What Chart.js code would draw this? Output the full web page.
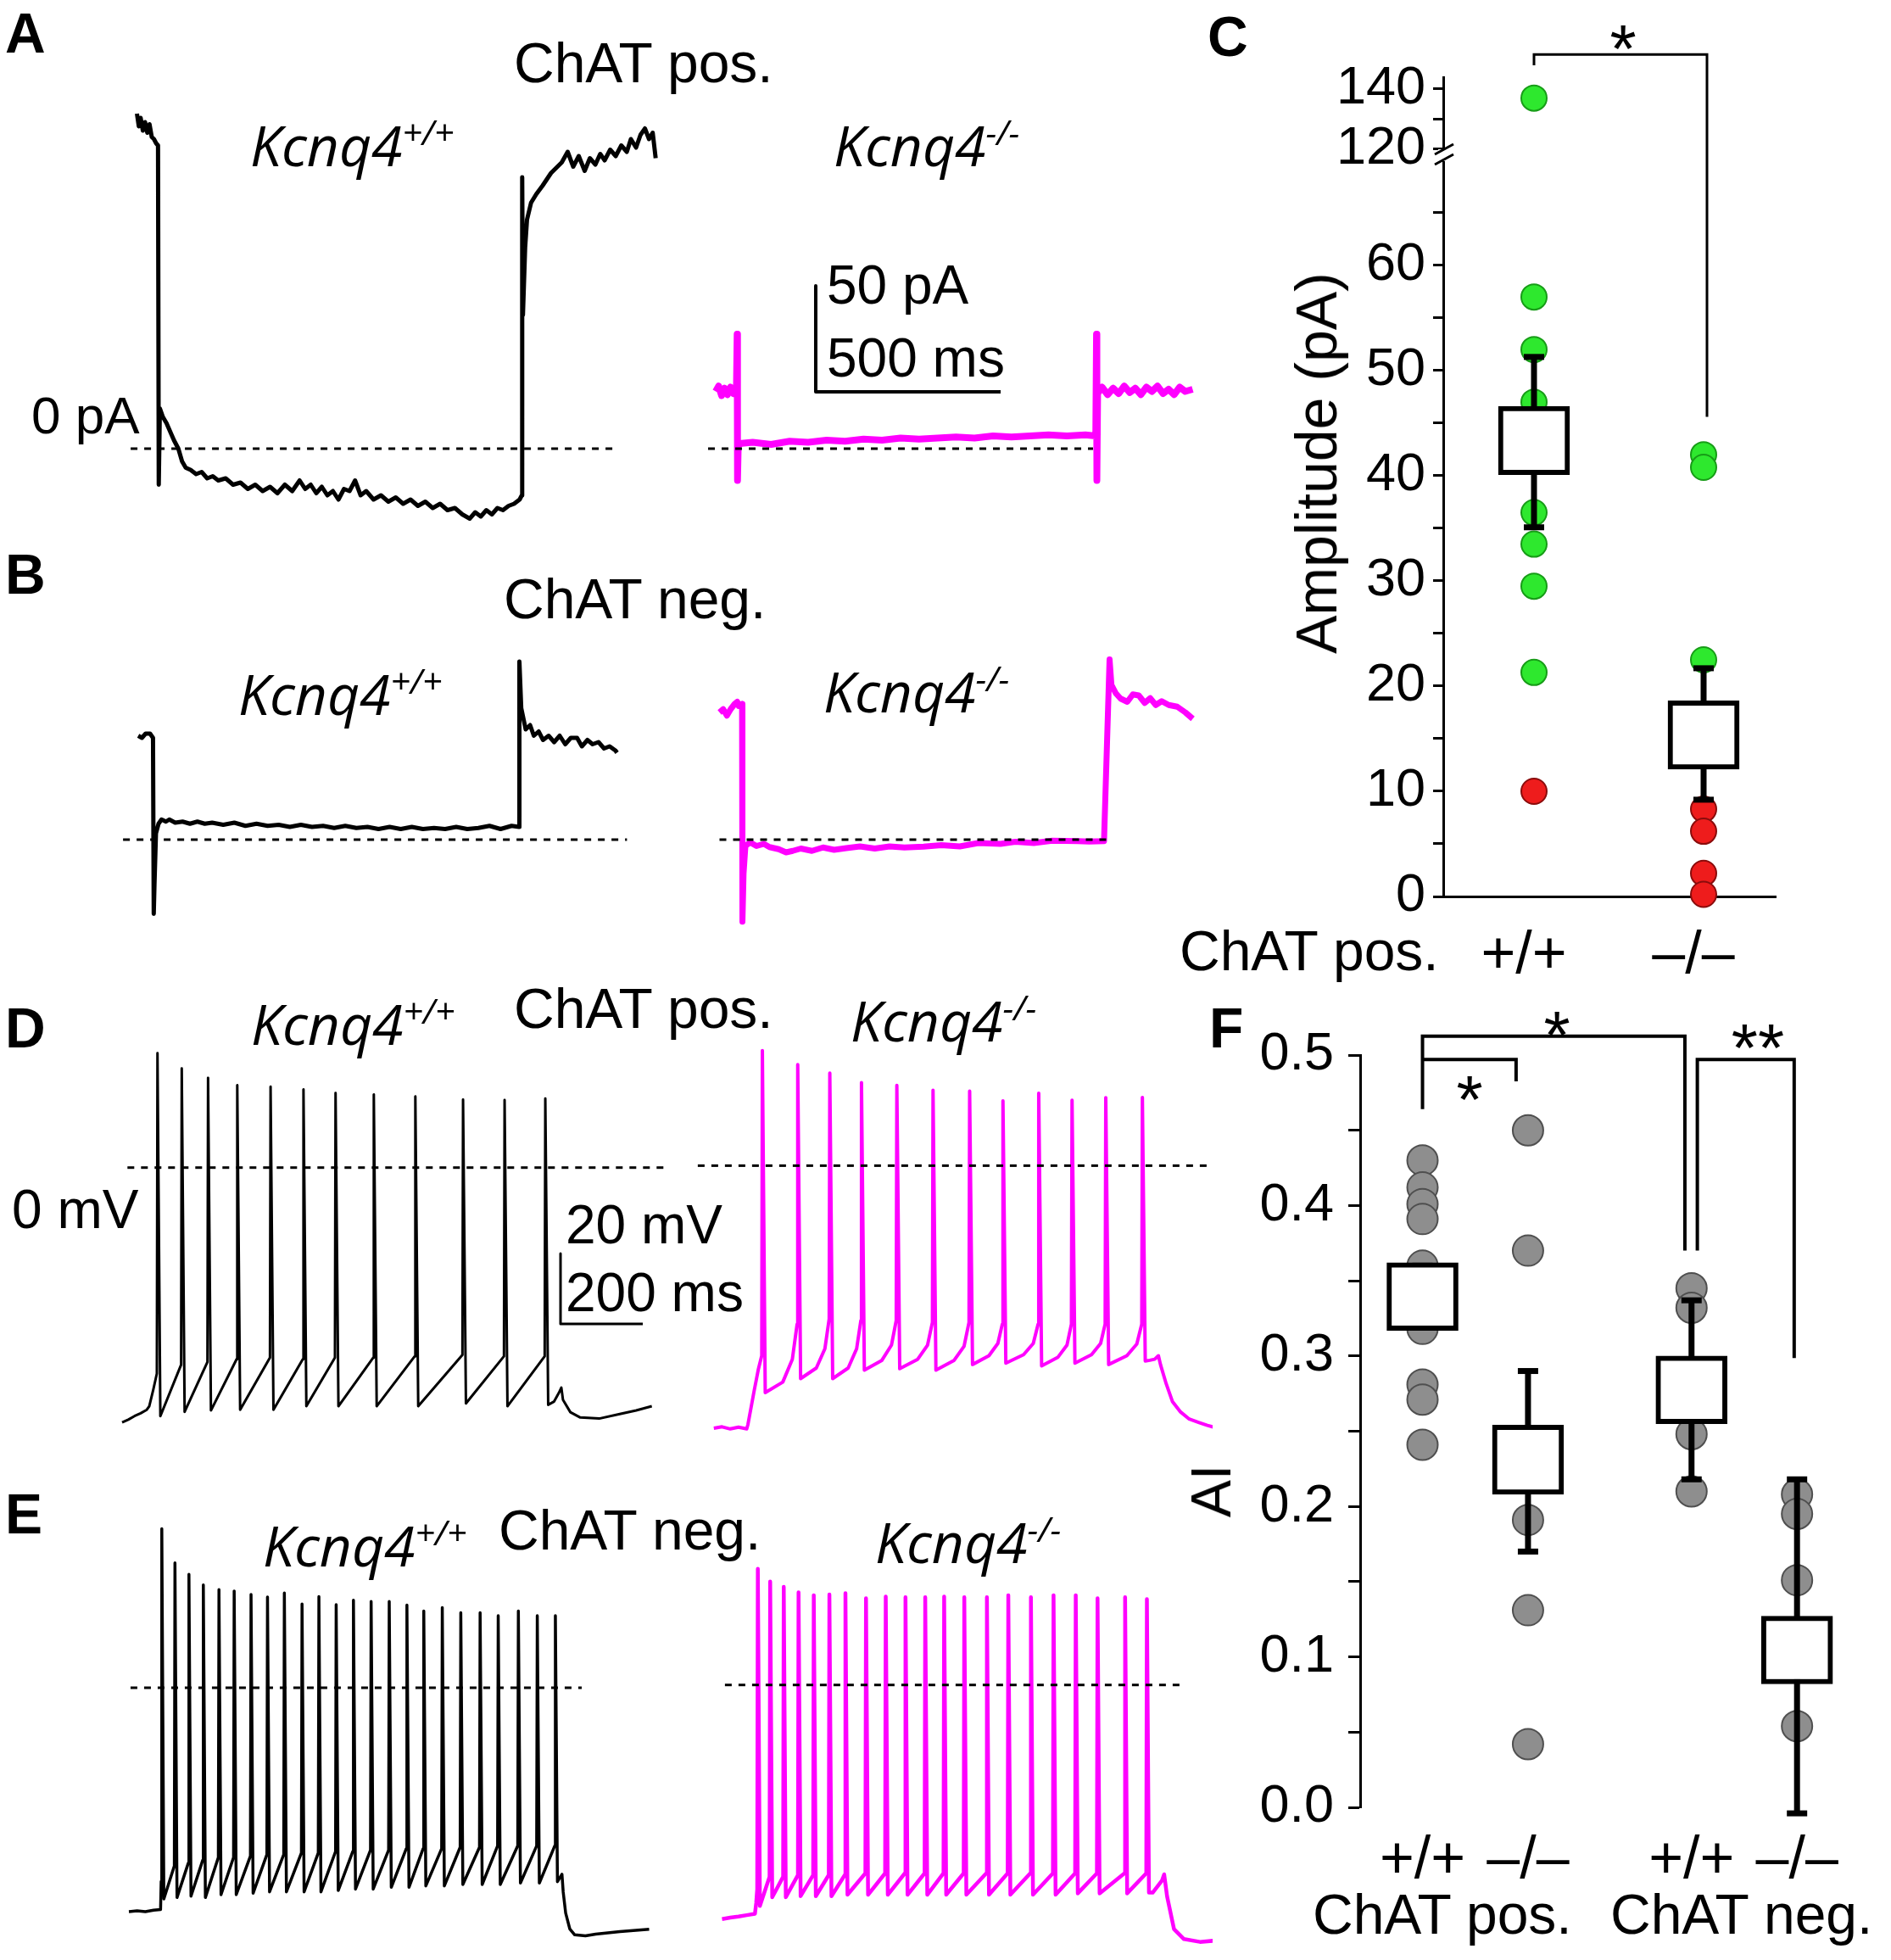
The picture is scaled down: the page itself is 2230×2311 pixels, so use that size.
<!DOCTYPE html>
<html>
<head>
<meta charset="utf-8">
<script src="https://cdn.jsdelivr.net/npm/chart.js@4.4.1/dist/chart.umd.min.js"></script>
<style>
  html, body { margin: 0; padding: 0; background: #fff; }
  #fig { position: relative; width: 2230px; height: 2311px; overflow: hidden; background: #fff; }
  #fig canvas { position: absolute; }
  .t { position: absolute; white-space: nowrap; line-height: 1; color: #000;
       font-family: "Liberation Sans", Arial, Helvetica, sans-serif; }
  .it { font-family: "Open Sans", "DejaVu Sans", sans-serif; font-style: italic; }
  .it sup { font-size: 0.62em; position: relative; top: -0.62em; vertical-align: baseline; line-height: 0; }
</style>
</head>
<body>
<div id="fig"></div>
<script>
// ---------------- data ----------------
// A: ChAT pos., current traces [ms, pA]
const aWtTrace = [[0,158],[5,152],[10,156],[16,150],[22,154],[28,149],[34,153],[40,147],[46,146],[52,144],[57,143],[59,-17],[62,19],[70,15],[80,12],[90,8],[100,4],[112,0],[122,-6],[132,-9],[145,-10],[160,-12],[175,-11],[190,-14],[205,-13],[220,-15],[240,-14],[260,-17],[280,-16],[300,-19],[320,-17],[340,-20],[360,-18],[380,-21],[400,-17],[420,-20],[440,-15],[455,-19],[470,-17],[485,-21],[500,-18],[515,-22],[530,-20],[545,-24],[560,-19],[575,-20],[590,-15],[605,-22],[620,-20],[640,-24],[660,-22],[680,-25],[700,-23],[720,-26],[740,-24],[760,-27],[780,-25],[800,-28],[820,-26],[840,-29],[860,-28],[880,-31],[900,-33],[915,-30],[930,-32],[945,-29],[960,-31],[975,-28],[990,-29],[1005,-27],[1020,-26],[1035,-24],[1041,-22],[1042,128],[1044,63],[1050,95],[1055,108],[1066,116],[1080,120],[1097,124],[1120,130],[1149,135],[1165,140],[1180,133],[1195,138],[1211,131],[1225,137],[1240,134],[1253,139],[1265,136],[1280,141],[1295,138],[1310,143],[1325,140],[1336,146],[1350,142],[1362,148],[1374,151],[1385,146],[1395,149],[1403,137]];
const aKoTrace = [[0,27],[8,29.5],[16,25],[24,28.5],[32,25.5],[40,29],[48,26],[56,27.5],[58,54],[59,-15],[61,1.5],[70,2.5],[100,3],[150,2],[200,3.5],[250,3],[300,4],[350,3.5],[400,4.5],[450,4],[500,5],[550,4.5],[600,5],[650,5.5],[700,5],[750,6],[800,5.5],[850,6],[900,6.5],[950,6],[1000,6.5],[1028,6],[1030,54],[1031,-15],[1033,26],[1045,29],[1060,25.5],[1075,28.5],[1090,26],[1105,29.5],[1120,26.5],[1135,28.5],[1150,25.5],[1165,29],[1180,27],[1195,29.5],[1210,26],[1225,28],[1240,25.5],[1255,29],[1270,27],[1290,28]];
// B: ChAT neg., current traces [ms, pA]
const bWtTrace = [[0,49],[10,48],[20,50],[32,50],[40,48],[42,-35],[44,-21],[48,3],[55,7.5],[63,9.5],[75,8.5],[84,9.5],[100,8],[120,8.5],[140,7.5],[160,8.5],[180,7.5],[200,8],[230,7],[260,8],[290,6.5],[320,7.5],[350,6.5],[380,7],[410,6],[440,7],[470,6],[500,6.5],[530,5.5],[560,6.5],[590,5.5],[620,6],[650,5],[680,6],[710,5],[740,6],[770,5],[800,5.5],[830,5],[860,6],[890,5],[920,5.5],[950,6.5],[980,5],[1010,6.5],[1030,6],[1031,84],[1036,62],[1048,52],[1060,54],[1070,49],[1083,51],[1095,47],[1110,49],[1125,46],[1140,49],[1155,45],[1170,48],[1187,48],[1200,44],[1215,47],[1229,45],[1245,46],[1260,43],[1275,44],[1291,42],[1295,41]];
const bKoTrace = [[0,60],[10,61.5],[20,58.5],[30,61.5],[41,64],[48,65],[52,63],[61,64],[62,-38.7],[65,-16],[70,-3],[83,-1.3],[100,-3],[120,-2],[135,-3.5],[160,-4.5],[180,-6],[198,-5.3],[220,-4.2],[250,-5.3],[280,-3.7],[310,-4.8],[343,-4],[380,-3.2],[420,-4.2],[460,-3.2],[500,-3.7],[552,-3.3],[600,-2.6],[650,-3.2],[700,-1.6],[760,-2],[800,-1],[850,-1.6],[900,-0.5],[968,-0.7],[1000,-0.9],[1040,-0.7],[1055,85],[1060,73],[1072,69],[1085,66.5],[1103,65],[1118,68.5],[1134,68],[1150,64.5],[1165,66.7],[1180,63.5],[1196,65.3],[1215,63.5],[1238,62.7],[1260,60],[1280,57]];

// D: ChAT pos., firing [ms, mV]
const dWtPre = [[0,-72.4],[15,-71.6],[30,-70.6],[45,-69.8],[60,-68.8],[66,-67.8],[76,-63]];
const dWtSpikeT = [86, 145, 209, 280, 361, 441, 519, 612, 713, 829, 930, 1029];
const dWtPeak = [32.5, 28.2, 25.5, 23.4, 23, 22.2, 21.2, 20.8, 20.2, 19.3, 19.2, 19.6];
const dWtThr = [-58.5, -56, -55.2, -54.4, -54, -54.4, -54, -54, -53.6, -53.2, -53.6, -53.6];
const dWtTrough = [-70.6, -69.4, -69, -68.8, -68.8, -67.8, -67.8, -67.8, -67.8, -67, -67.8, -67.4];
const dWtPost = [[1050,-66.5],[1062,-64],[1068,-62.5],[1072,-66],[1090,-69.5],[1114,-71],[1160,-71.3],[1210,-70],[1250,-69],[1288,-67.8]];

const dKoPre = [[0,-74.6],[20,-74.2],[40,-74.8],[60,-74.3],[80,-74.8],[83,-73.5],[98,-64],[108,-58]];
const dKoSpikeT = [118, 204, 282, 359, 445, 533, 622, 703, 790, 871, 953, 1042];
const dKoPeak = [32.7, 28.7, 26.3, 23.6, 22.8, 21.4, 21.2, 18.4, 20.6, 18.6, 19.3, 19.4];
const dKoThr = [-54, -45, -43.5, -44, -44, -44.5, -44.5, -45, -45, -45, -45, -45];
const dKoTrough = [-64.5, -60.5, -60.5, -58.1, -57.7, -58.1, -56.5, -56.1, -56.9, -56.1, -56.5, -55.5];
const dKoMid = [-61.5, -57.5, -57.5, -55.3, -55, -55.3, -54, -53.7, -54.4, -53.7, -54];
const dKoLate = [-55, -52, -52, -51, -51, -51.3, -50.5, -50.5, -51, -50.5, -50.7];
const dKoPost = [[1060,-55.3],[1072,-55],[1081,-54],[1086,-56.5],[1100,-62],[1115,-67],[1135,-70],[1156,-72],[1180,-73],[1200,-73.8],[1221,-74.5]];

// E: ChAT neg., firing [ms, mV]
const eWtPre = [[0,-63.6],[20,-63.4],[40,-63.6],[60,-63.2],[77,-63]];
const eWtSpikeT = [80, 112, 146, 181, 219, 256, 297, 337, 378, 421, 462, 504, 546, 589, 633, 676, 717, 762, 807, 854, 898, 947, 993, 1037];
const eWtPeak = [45.2, 35.5, 32.2, 29.2, 27.9, 27.5, 26.5, 25.8, 26.9, 23.8, 25.9, 23.6, 24.9, 24.5, 24.5, 23.5, 21.8, 22.8, 21.3, 21.3, 20.5, 21.8, 20.5, 20.5];
const eWtThr = [-55, -50.6, -49.8, -49, -48.2, -48.2, -47.8, -47.4, -47.4, -46.9, -46.9, -46.5, -46.5, -46.1, -46.1, -45.7, -45.7, -45.7, -45.3, -45.3, -44.9, -44.9, -44.9, -44.9];
const eWtTrough = [-60, -59.6, -59.2, -59.6, -58.8, -58.8, -58.4, -58, -58, -58, -58, -57.6, -57.2, -57.2, -56.7, -56.7, -56.3, -56.3, -55.9, -55.9, -55.9, -55.5, -55.5, -55.1];
const eWtPost = [[1053,-53],[1056,-58],[1062,-64],[1072,-68.5],[1084,-70.2],[1110,-70.5],[1135,-70],[1194,-69.3],[1265,-68.6]];

const eKoPre = [[0,-66.5],[20,-66.1],[40,-65.8],[60,-65.4],[80,-65],[83,-62]];
const eKoSpikeT = [87, 117, 150, 186, 223, 261, 300, 350, 398, 446, 494, 540, 589, 644, 696, 751, 806, 860, 913, 980, 1033];
const eKoPeak = [33, 29.4, 27.9, 26.3, 25.5, 25.7, 26.1, 24.6, 25.1, 24.9, 24.9, 25.1, 24.9, 24.9, 25.5, 24.9, 25.5, 25.5, 24.6, 24.9, 24.4];
const eKoThr = [-58, -54.5, -54.5, -54, -54, -54, -54, -53.5, -53.5, -53.5, -53.5, -53.5, -53.5, -53.5, -53.5, -53.5, -53.5, -53.5, -53.5, -53.5, -53.5];
const eKoTrough = [-62.8, -60.3, -60.3, -60, -60, -60, -59.6, -59.6, -59.6, -59.6, -59.6, -59.6, -59.6, -59.6, -59.6, -59.6, -59.6, -59.2, -59.2, -59.2, -59];
const eKoPost = [[1047,-59],[1070,-55.5],[1075,-53.8],[1082,-60],[1099,-69.4],[1123,-72.2],[1162,-73],[1202,-72.6]];

// C: amplitude (pA)
const cGroups = ['+/+', '\u2013/\u2013'];
const cGreen = [[137, 57, 52, 47, 36.5, 33.5, 29.5, 21.3], [42, 40.8, 22.5]];
const cRed = [[10], [8.3, 6.2, 2.2, 0.2]];
const cBoxLow = [40.1, 12.1];
const cBoxHigh = [46.6, 18.6];
const cWhiskLow = [35.1, 9.2];
const cWhiskHigh = [51.3, 21.7];
const cLoTicks = [0, 5, 10, 15, 20, 25, 30, 35, 40, 45, 50, 55, 60, 65];
const cLoLabels = ['0', '', '10', '', '20', '', '30', '', '40', '', '50', '', '60', ''];
const cHiTicks = [120, 130, 140];
const cHiLabels = ['120', '', '140'];

// F: adaptation index
const fGroups = ['+/+', '\u2013/\u2013', '+/+', '\u2013/\u2013'];
const fPoints = [[0.43, 0.412, 0.401, 0.391, 0.36, 0.318, 0.281, 0.271, 0.241], [0.45, 0.37, 0.191, 0.131, 0.042], [0.345, 0.332, 0.248, 0.21], [0.208, 0.195, 0.151, 0.054]];
const fBoxLow = [0.317, 0.208, 0.255, 0.082];
const fBoxHigh = [0.362, 0.254, 0.300, 0.127];
const fWhiskLow = [0.32, 0.17, 0.218, -0.004];
const fWhiskHigh = [0.36, 0.29, 0.337, 0.218];
const fTicks = [0, 0.05, 0.1, 0.15, 0.2, 0.25, 0.3, 0.35, 0.4, 0.45, 0.5];
const fTickLabels = ['0.0', '', '0.1', '', '0.2', '', '0.3', '', '0.4', '', '0.5'];

// ---------------- layout ----------------
const SANS = '"Liberation Sans", Arial, Helvetica, sans-serif';
Chart.defaults.font.family = SANS;
Chart.defaults.color = '#000';
Chart.defaults.animation = false;
Chart.defaults.plugins.legend.display = false;
Chart.defaults.plugins.tooltip.enabled = false;

const MAGENTA = '#ff00ff';
const fig = document.getElementById('fig');

function addCanvas(box) {
  const c = document.createElement('canvas');
  c.width = box.w; c.height = box.h;
  Object.assign(c.style, { left: box.left + 'px', top: box.top + 'px', width: box.w + 'px', height: box.h + 'px' });
  fig.appendChild(c);
  return c;
}

function addText(html, left, baseline, size, opt = {}) {
  const d = document.createElement('div');
  d.className = 't' + (opt.italic ? ' it' : '');
  d.innerHTML = html;
  d.style.fontSize = size + 'px';
  if (opt.bold) d.style.fontWeight = 'bold';
  const asc = opt.italic ? 0.888 : 0.8465;
  d.style.left = left + 'px';
  d.style.top = (baseline - asc * size) + 'px';
  fig.appendChild(d);
  return d;
}
function addRotated(text, cx, cy, size) {
  const d = document.createElement('div');
  d.className = 't';
  d.textContent = text;
  d.style.fontSize = size + 'px';
  d.style.left = cx + 'px';
  d.style.top = cy + 'px';
  d.style.transform = 'translate(-50%, -50%) rotate(-90deg)';
  fig.appendChild(d);
}
function addStar(text, cx, cy, size) {
  const d = addText(text, cx, 0, size);
  d.style.top = (cy - 0.28 * size) + 'px';
  d.style.transform = 'translateX(-50%)';
}

const toPts = arr => arr.map(p => ({ x: p[0], y: p[1] }));

function spikeTrain(pre, sp, post, troughDt) {
  const pts = toPts(pre);
  sp.t.forEach((t, i) => {
    pts.push({ x: t - 1.5, y: sp.thr[i] }, { x: t, y: sp.peak[i] }, { x: t + troughDt, y: sp.trough[i] });
    const next = sp.t[i + 1];
    if (next !== undefined && sp.mid) {
      const a = t + troughDt, b = next - 1.5;
      pts.push({ x: a + 0.55 * (b - a), y: sp.mid[i] }, { x: a + 0.85 * (b - a), y: sp.late[i] });
    }
  });
  return pts.concat(toPts(post));
}

function rangeScale(box, org, axis) {
  if (axis === 'x') {
    return { type: 'linear', display: false, min: (box.left - org.x0) / org.sx, max: (box.left + box.w - org.x0) / org.sx };
  }
  return { type: 'linear', display: false, max: (org.y0 - box.top) / org.sy, min: (org.y0 - box.top - box.h) / org.sy };
}

function lineDs(points, color, width, xs, ys, dash, order) {
  return {
    type: 'line', data: points, borderColor: color, borderWidth: width, pointRadius: 0,
    tension: 0, fill: false, borderDash: dash || [], borderJoinStyle: 'round', borderCapStyle: 'butt',
    xAxisID: xs, yAxisID: ys, clip: false, order: order
  };
}

function traceChart(box, layers) {
  const cv = addCanvas(box);
  const scales = {};
  const datasets = [];
  layers.forEach((L, k) => {
    const xs = 'x' + k, ys = 'y' + k;
    scales[xs] = rangeScale(box, L.org, 'x');
    scales[ys] = rangeScale(box, L.org, 'y');
    datasets.push(lineDs(L.points, L.color, L.width, xs, ys, null, 2));
    datasets.push(lineDs([{ x: L.zero[0], y: 0 }, { x: L.zero[1], y: 0 }], '#000', 3, xs, ys, [8, 8], 0));
    if (L.bar) {
      const b = L.bar;
      datasets.push(lineDs([{ x: b.t, y: b.top }, { x: b.t, y: b.top - b.dy }, { x: b.t + b.dt, y: b.top - b.dy }], '#000', b.width, xs, ys, null, 1));
    }
  });
  new Chart(cv, {
    type: 'line',
    data: { datasets },
    options: { responsive: false, devicePixelRatio: 1, layout: { padding: 0 }, scales }
  });
}

// A
const orgA = { sx: 0.436, sy: 2.5 };
traceChart({ left: 0, top: 90, w: 1430, h: 540 }, [
  { points: toPts(aWtTrace), color: '#000', width: 5, org: { ...orgA, x0: 161.5, y0: 529 }, zero: [-17, 1295] },
  { points: toPts(aKoTrace), color: MAGENTA, width: 8, org: { ...orgA, x0: 844, y0: 529 }, zero: [-20.6, 1020.6],
    bar: { t: 270.6, top: 76.8, dy: 50, dt: 500, width: 4 } }
]);
// B
traceChart({ left: 0, top: 740, w: 1430, h: 380 }, [
  { points: toPts(bWtTrace), color: '#000', width: 5, org: { ...orgA, x0: 163, y0: 990 }, zero: [-41, 1322] },
  { points: toPts(bKoTrace), color: MAGENTA, width: 7, org: { ...orgA, x0: 848.5, y0: 990 }, zero: [0, 1051] }
]);
// D
const orgD = { sx: 0.485, sy: 4.15 };
traceChart({ left: 0, top: 1225, w: 1430, h: 490 }, [
  { points: spikeTrain(dWtPre, { t: dWtSpikeT, peak: dWtPeak, thr: dWtThr, trough: dWtTrough }, dWtPost, 7),
    color: '#000', width: 3, org: { ...orgD, x0: 144, y0: 1376.7 }, zero: [13, 1318],
    bar: { t: 1066, top: -24.4, dy: 20, dt: 200, width: 3 } },
  { points: spikeTrain(dKoPre, { t: dKoSpikeT, peak: dKoPeak, thr: dKoThr, trough: dKoTrough, mid: dKoMid, late: dKoLate }, dKoPost, 7),
    color: MAGENTA, width: 4, org: { ...orgD, x0: 841.8, y0: 1374.4 }, zero: [-39, 1209] }
]);
// E
traceChart({ left: 0, top: 1780, w: 1430, h: 531 }, [
  { points: spikeTrain(eWtPre, { t: eWtSpikeT, peak: eWtPeak, thr: eWtThr, trough: eWtTrough }, eWtPost, 5),
    color: '#000', width: 3.5, org: { ...orgD, x0: 152, y0: 1990 }, zero: [4, 1101] },
  { points: spikeTrain(eKoPre, { t: eKoSpikeT, peak: eKoPeak, thr: eKoThr, trough: eKoTrough }, eKoPost, 5),
    color: MAGENTA, width: 4.5, org: { ...orgD, x0: 851.5, y0: 1986.7 }, zero: [7, 1127] }
]);

// ---------- C: broken y axis, boxes with whiskers ----------
const GREEN = '#2ee82e', GREEN_EDGE = '#179c17', RED = '#ee1c1c', RED_EDGE = '#8a0c0c';
const GRAY = '#8e8e8e', GRAY_EDGE = '#4f4f4f';
const cX = [0, 1];
const fX = [0, 1, 2.55, 3.55];
const colPts = (xs, groups, keep) => groups.flatMap((g, i) => g.filter(keep).map(v => ({ x: xs[i], y: v })));

function pointDs(data, fill, edge, r, yId) {
  return { type: 'scatter', data, yAxisID: yId, xAxisID: 'x', pointRadius: r, pointBackgroundColor: fill,
           pointBorderColor: edge, pointBorderWidth: 2, backgroundColor: fill, borderColor: edge, order: 3, clip: false };
}
function whiskerDs(xs, lo, hi, yId, w) {
  return { type: 'line', data: lo.flatMap((v, i) => [{ x: xs[i], y: v }, { x: xs[i], y: hi[i] }, { x: xs[i], y: null }]),
           borderColor: '#000', borderWidth: w, pointRadius: 0, spanGaps: false, yAxisID: yId, xAxisID: 'x', order: 2, clip: false };
}
function capDs(xs, lo, hi, yId, w) {
  return { type: 'scatter', data: lo.map((v, i) => ({ x: xs[i], y: v })).concat(hi.map((v, i) => ({ x: xs[i], y: v }))),
           pointStyle: 'line', pointRadius: 12, pointBorderWidth: w, pointBorderColor: '#000', borderColor: '#000',
           yAxisID: yId, xAxisID: 'x', order: 2, clip: false };
}
function boxDs(xs, lo, hi, yId) {
  return { type: 'bar', data: lo.map((v, i) => ({ x: xs[i], y: [v, hi[i]] })), backgroundColor: '#fff',
           borderColor: '#000', borderWidth: 6, borderSkipped: false, barThickness: 84, yAxisID: yId, xAxisID: 'x', order: 1 };
}
const yTickGrid = len => ({ display: true, drawOnChartArea: false, drawTicks: true, tickLength: len, tickWidth: 3, tickColor: '#000' });
const axisBorder = { display: true, width: 3, color: '#000' };

const cAnnot = {
  id: 'cAnnot',
  afterDraw(chart) {
    const { ctx, chartArea, scales: { x, yLo, yHi } } = chart;
    ctx.save();
    const ax = chartArea.left, yb = yLo.top;
    ctx.fillStyle = '#fff';
    ctx.fillRect(ax - 6, yb - 6, 12, 14);
    ctx.strokeStyle = '#000';
    ctx.lineWidth = 3;
    [-6, 6].forEach(d => {
      ctx.beginPath();
      ctx.moveTo(ax - 10, yb + d + 6);
      ctx.lineTo(ax + 12, yb + d - 6);
      ctx.stroke();
    });
    // significance bracket
    const x0 = x.getPixelForValue(0), x1 = x.getPixelForValue(1.02);
    ctx.beginPath();
    ctx.moveTo(x0, yHi.getPixelForValue(147.9));
    ctx.lineTo(x0, yHi.getPixelForValue(151.5));
    ctx.lineTo(x1, yHi.getPixelForValue(151.5));
    ctx.lineTo(x1, yLo.getPixelForValue(45.6));
    ctx.stroke();
    ctx.restore();
  }
};

new Chart(addCanvas({ left: 1380, top: 0, w: 850, h: 1160 }), {
  type: 'scatter',
  data: {
    datasets: [
      pointDs(colPts(cX, cGreen, v => v < 100), GREEN, GREEN_EDGE, 15, 'yLo'),
      pointDs(colPts(cX, cGreen, v => v >= 100), GREEN, GREEN_EDGE, 15, 'yHi'),
      pointDs(colPts(cX, cRed, v => v < 100), RED, RED_EDGE, 15, 'yLo'),
      whiskerDs(cX, cWhiskLow, cWhiskHigh, 'yLo', 7),
      capDs(cX, cWhiskLow, cWhiskHigh, 'yLo', 7),
      boxDs(cX, cBoxLow, cBoxHigh, 'yLo')
    ]
  },
  options: {
    responsive: false, devicePixelRatio: 1,
    layout: { padding: { top: 91, right: 136, left: 0, bottom: 0 } },
    scales: {
      x: {
        type: 'linear', position: 'bottom', min: -0.535, max: 1.425, offset: false,
        grid: { display: false }, border: axisBorder,
        afterBuildTicks: s => { s.ticks = cX.map(v => ({ value: v })); },
        ticks: { callback: (v, i) => cGroups[i], font: { size: 70 }, padding: 21, labelOffset: -12, maxRotation: 0, autoSkip: false },
        afterFit: s => { s.height = 103; }
      },
      yLo: {
        type: 'linear', position: 'left', stack: 'amp', stackWeight: 875, min: 0, max: 70.56, offset: false,
        grid: yTickGrid(12), border: axisBorder,
        afterBuildTicks: s => { s.ticks = cLoTicks.map(v => ({ value: v })); },
        ticks: { callback: (v, i) => cLoLabels[i], font: { size: 63 }, padding: 9, autoSkip: false },
        afterFit: s => { s.width = 322; }
      },
      yHi: {
        type: 'linear', position: 'left', stack: 'amp', stackWeight: 91, min: 118.31, max: 143.94, offset: false,
        grid: yTickGrid(12), border: axisBorder,
        afterBuildTicks: s => { s.ticks = cHiTicks.map(v => ({ value: v })); },
        ticks: { callback: (v, i) => cHiLabels[i], font: { size: 63 }, padding: 9, autoSkip: false },
        afterFit: s => { s.width = 322; }
      }
    }
  },
  plugins: [cAnnot]
});

// ---------- F ----------
const fBrackets = [
  { x1: 0, x2: 2.487, yL: 0.464, yTop: 0.5125, yR: 0.370 },
  { x1: 0, x2: 0.887, yL: 0.497, yTop: 0.497, yR: 0.4825 },
  { x1: 2.605, x2: 3.523, yL: 0.370, yTop: 0.497, yR: 0.2986 }
];
const fAnnot = {
  id: 'fAnnot',
  afterDraw(chart) {
    const { ctx, scales: { x, yF } } = chart;
    ctx.save();
    ctx.strokeStyle = '#000';
    ctx.lineWidth = 4;
    fBrackets.forEach(b => {
      ctx.beginPath();
      ctx.moveTo(x.getPixelForValue(b.x1), yF.getPixelForValue(b.yL));
      ctx.lineTo(x.getPixelForValue(b.x1), yF.getPixelForValue(b.yTop));
      ctx.lineTo(x.getPixelForValue(b.x2), yF.getPixelForValue(b.yTop));
      ctx.lineTo(x.getPixelForValue(b.x2), yF.getPixelForValue(b.yR));
      ctx.stroke();
    });
    ctx.restore();
  }
};

new Chart(addCanvas({ left: 1380, top: 1150, w: 850, h: 1161 }), {
  type: 'scatter',
  data: {
    datasets: [
      pointDs(colPts(fX, fPoints, () => true), GRAY, GRAY_EDGE, 18, 'yF'),
      whiskerDs(fX, fWhiskLow, fWhiskHigh, 'yF', 7),
      capDs(fX, fWhiskLow, fWhiskHigh, 'yF', 7),
      boxDs(fX, fBoxLow, fBoxHigh, 'yF')
    ]
  },
  options: {
    responsive: false, devicePixelRatio: 1,
    layout: { padding: { top: 94, right: 0, left: 0, bottom: 0 } },
    scales: {
      x: {
        type: 'linear', position: 'bottom', min: -0.591, max: 4.28, offset: false,
        grid: { display: false }, border: { display: false },
        afterBuildTicks: s => { s.ticks = fX.map(v => ({ value: v })); },
        ticks: { callback: (v, i) => fGroups[i], font: { size: 70 }, padding: 14, maxRotation: 0, autoSkip: false },
        afterFit: s => { s.height = 180; }
      },
      yF: {
        type: 'linear', position: 'left', min: 0, max: 0.5, offset: false,
        grid: yTickGrid(14), border: axisBorder,
        afterBuildTicks: s => { s.ticks = fTicks.map(v => ({ value: v })); },
        ticks: { callback: (v, i) => fTickLabels[i], font: { size: 63 }, padding: 17, autoSkip: false },
        afterFit: s => { s.width = 224; }
      }
    }
  },
  plugins: [fAnnot]
});

// ---------- text ----------
[['A', 6, 62], ['B', 6, 700], ['C', 1424, 66], ['D', 6, 1235], ['E', 6, 1808], ['F', 1426, 1235]]
  .forEach(([s, x, y]) => addText(s, x, y, 66, { bold: true }));

addText('ChAT pos.', 606, 97, 66);
addText('ChAT neg.', 594, 729, 66);
addText('ChAT pos.', 606, 1212, 66);
addText('ChAT neg.', 588, 1827, 66);

const wt = 'Kcnq4<sup>+/+</sup>', ko = 'Kcnq4<sup>-/-</sup>';
addText(wt, 295, 196, 66, { italic: true });
addText(ko, 983, 196, 66, { italic: true });
addText(wt, 281, 843, 66, { italic: true });
addText(ko, 971, 840, 66, { italic: true });
addText(wt, 296, 1232, 66, { italic: true });
addText(ko, 1003, 1228, 66, { italic: true });
addText(wt, 310, 1847, 66, { italic: true });
addText(ko, 1032, 1843, 66, { italic: true });

addText('0 pA', 37, 511, 62);
addText('50 pA', 975, 358, 64);
addText('500 ms', 975, 444, 64);
addText('0 mV', 14, 1448, 64);
addText('20 mV', 667, 1466, 64);
addText('200 ms', 667, 1546, 64);

addRotated('Amplitude (pA)', 1552, 546, 68);
addRotated('AI', 1428, 1758, 66);
addText('ChAT pos.', 1391, 1144, 66);
addText('ChAT pos.', 1548, 2280, 66);
addText('ChAT neg.', 1899, 2280, 66);

addStar('*', 1914, 40, 80);
addStar('*', 1836, 1203, 80);
addStar('*', 1733, 1279, 80);
addStar('**', 2073, 1218, 80);
</script>
</body>
</html>
